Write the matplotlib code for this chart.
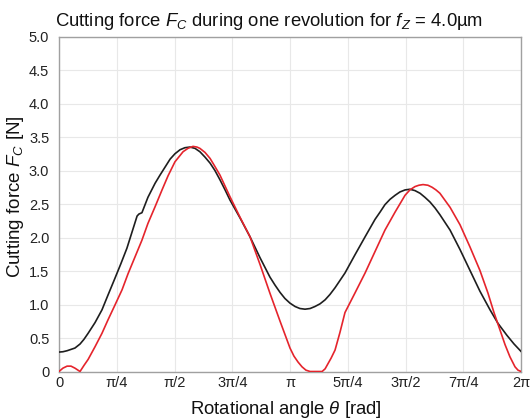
import numpy as np
import matplotlib
matplotlib.use("Agg")
import matplotlib.pyplot as plt

# rotational angle in units of pi, cutting force in N
theta_black = [0.000, 0.017, 0.035, 0.052, 0.069, 0.091, 0.108, 0.126, 0.156, 0.186, 0.212,
               0.242, 0.268, 0.294, 0.316, 0.338, 0.346, 0.359, 0.385, 0.416, 0.437, 0.459,
               0.481, 0.502, 0.524, 0.545, 0.567, 0.589, 0.610, 0.632, 0.654, 0.675, 0.697,
               0.719, 0.740, 0.784, 0.827, 0.870, 0.913, 0.935, 0.957, 0.978, 1.000, 1.022,
               1.043, 1.065, 1.087, 1.108, 1.130, 1.152, 1.173, 1.195, 1.238, 1.281, 1.325,
               1.368, 1.390, 1.411, 1.433, 1.455, 1.476, 1.498, 1.519, 1.541, 1.563, 1.584,
               1.606, 1.628, 1.649, 1.693, 1.736, 1.779, 1.822, 1.866, 1.900, 1.939, 1.970, 2.000]
force_black = [0.29, 0.295, 0.31, 0.33, 0.35, 0.41, 0.48, 0.57, 0.73, 0.92, 1.14,
               1.39, 1.61, 1.84, 2.08, 2.32, 2.35, 2.37, 2.60, 2.81, 2.93, 3.05,
               3.17, 3.25, 3.31, 3.34, 3.35, 3.33, 3.28, 3.20, 3.11, 3.00, 2.86,
               2.71, 2.56, 2.29, 2.01, 1.70, 1.41, 1.29, 1.18, 1.09, 1.02, 0.97,
               0.94, 0.93, 0.94, 0.97, 1.01, 1.07, 1.15, 1.25, 1.47, 1.74, 2.01,
               2.27, 2.38, 2.49, 2.57, 2.63, 2.68, 2.71, 2.72, 2.70, 2.66, 2.60,
               2.53, 2.44, 2.34, 2.11, 1.82, 1.51, 1.20, 0.92, 0.72, 0.54, 0.41, 0.30]

theta_red = [0.000, 0.017, 0.035, 0.052, 0.069, 0.091, 0.108, 0.126, 0.156, 0.186, 0.212,
             0.242, 0.273, 0.299, 0.329, 0.359, 0.385, 0.416, 0.446, 0.472, 0.502, 0.537,
             0.558, 0.580, 0.597, 0.610, 0.632, 0.654, 0.675, 0.697, 0.740, 0.784, 0.827,
             0.870, 0.913, 0.957, 1.000, 1.017, 1.035, 1.052, 1.069, 1.087, 1.139, 1.152,
             1.165, 1.178, 1.195, 1.216, 1.238, 1.281, 1.325, 1.368, 1.411, 1.455, 1.498,
             1.519, 1.541, 1.558, 1.576, 1.597, 1.615, 1.632, 1.649, 1.693, 1.736, 1.779,
             1.822, 1.857, 1.883, 1.909, 1.931, 1.952, 1.974, 1.987, 2.000]
force_red = [0.00, 0.05, 0.08, 0.08, 0.05, 0.00, 0.09, 0.18, 0.37, 0.57, 0.77,
             0.99, 1.22, 1.46, 1.71, 1.96, 2.21, 2.46, 2.71, 2.92, 3.13, 3.28,
             3.33, 3.36, 3.35, 3.33, 3.27, 3.18, 3.06, 2.93, 2.61, 2.30, 2.01,
             1.60, 1.17, 0.75, 0.35, 0.23, 0.14, 0.07, 0.02, 0.00, 0.00, 0.04,
             0.12, 0.20, 0.32, 0.58, 0.88, 1.17, 1.47, 1.79, 2.11, 2.38, 2.63,
             2.71, 2.76, 2.78, 2.79, 2.78, 2.75, 2.71, 2.66, 2.45, 2.19, 1.86,
             1.51, 1.17, 0.88, 0.62, 0.40, 0.22, 0.07, 0.02, 0.00]

xtick_labels = ["0", "π/4", "π/2", "3π/4", "π", "5π/4", "3π/2", "7π/4", "2π"]
ytick_values = [0, 0.5, 1.0, 1.5, 2.0, 2.5, 3.0, 3.5, 4.0, 4.5, 5.0]
ytick_labels = ["0", "0.5", "1.0", "1.5", "2.0", "2.5", "3.0", "3.5", "4.0", "4.5", "5.0"]

plt.rcParams['font.family'] = ['Liberation Sans', 'DejaVu Sans']
plt.rcParams['mathtext.fontset'] = 'custom'
plt.rcParams['mathtext.rm'] = 'Liberation Sans'
plt.rcParams['mathtext.it'] = 'Liberation Sans:italic'

W, H = 530, 419
fig = plt.figure(figsize=(W / 100, H / 100), dpi=100)
ax = fig.add_axes([59 / W, 1 - 371.5 / H, 462 / W, 335 / H])

tb = np.array(theta_black) * np.pi
tr = np.array(theta_red) * np.pi
ax.plot(tb, force_black, color='#1e1e1e', lw=1.2, zorder=3, solid_joinstyle='round')
ax.plot(tr, force_red, color='#e5242c', lw=1.2, zorder=4, solid_joinstyle='round')

ax.set_xlim(0, 2 * np.pi)
ax.set_ylim(0, 5.0)
ax.set_xticks(np.arange(9) * np.pi / 4)
ax.set_xticklabels(xtick_labels, fontsize=10.5)
ax.set_yticks(ytick_values)
ax.set_yticklabels(ytick_labels, fontsize=10.5)
ax.tick_params(axis='y', length=0, pad=7, colors='#222222')
ax.tick_params(axis='x', length=0, pad=3, colors='#222222')
ax.grid(True, color='#e8e8e8', lw=0.8)
ax.set_axisbelow(True)
for s in ax.spines.values():
    s.set_color('#a0a0a0')
    s.set_linewidth(1.0)

fig.text(269 / W, 1 - 26 / H, r"Cutting force $F_C$ during one revolution for $f_Z$ = 4.0µm",
         fontsize=13.3, ha='center', va='baseline', color='#111111')
fig.text(286 / W, 1 - 414 / H, r"Rotational angle $\theta$ [rad]",
         fontsize=13.3, ha='center', va='baseline', color='#111111')
fig.text(16 / W, 1 - 197 / H, r"Cutting force $F_C$ [N]",
         fontsize=13.5, ha='center', va='center', rotation=90, color='#111111')

fig.savefig("out.png", dpi=100)
